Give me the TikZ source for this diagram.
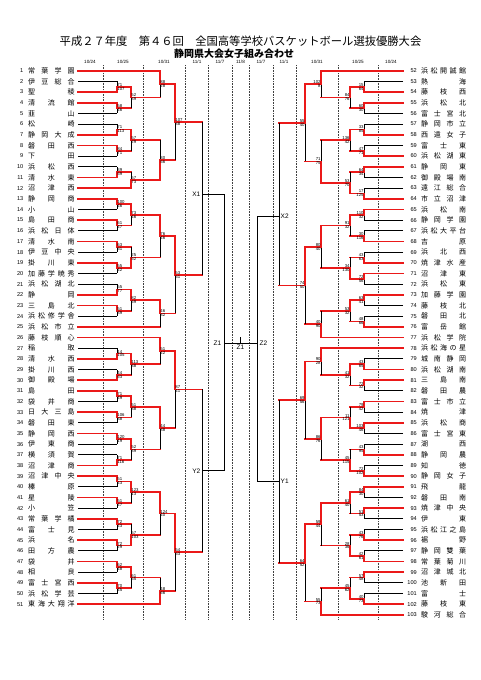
\documentclass[tikz,border=0pt]{standalone}
\usepackage{fontspec}
\newfontfamily\cjk{Noto Sans CJK JP}
\newfontfamily\arial{Liberation Sans}
\definecolor{myred}{RGB}{235,25,25}
\ExplSyntaxOn
\tl_new:N \l_sp_tl
\tl_new:N \l_spt_tl
\NewDocumentCommand\spread{m}{
  \tl_set:Nx \l_sp_tl {#1}
  \tl_set:Nx \l_spt_tl { \tl_tail:N \l_sp_tl }
  \tl_head:N \l_sp_tl
  \tl_map_inline:Nn \l_spt_tl { \hfill ##1 }
}
\ExplSyntaxOff
\tikzset{
  lr/.style={draw=myred, line width=1.7pt, line cap=rect},
  lb/.style={draw=black, line width=0.75pt},
  tr/.style={lr},
  tb/.style={lb},
  dl/.style={draw=black!75, line width=0.45pt, dash pattern=on 0.7pt off 0.9pt},
  sc/.style={font=\arial\fontsize{4.3}{4.3}\selectfont, inner sep=0.25pt},
  hd/.style={font=\arial\fontsize{4.6}{5}\selectfont, inner sep=0},
  nb/.style={font=\arial\fontsize{5.6}{6}\selectfont, inner sep=0},
  nm/.style={font=\cjk\fontsize{7}{7}\selectfont, inner sep=0},
  lab/.style={font=\arial\fontsize{6.5}{7}\selectfont, inner sep=0.5pt},
}
\newcommand\gm[7]{%
  \pgfmathsetmacro\ym{(#3+#4)/2}%
  \ifdim #1pt<240pt \def\sa{west}\else\def\sa{east}\fi
  \ifcase #5\relax
    \draw[lb] (#1,#3) -- (#1,#4); \draw[lb] (#1,\ym) -- (#2,\ym);
  \or
    \draw[lb] (#1,\ym) -- (#1,#4); \draw[lr] (#1,#3) -- (#1,\ym) -- (#2,\ym);
  \or
    \draw[lb] (#1,\ym) -- (#1,#3); \draw[lr] (#1,#4) -- (#1,\ym) -- (#2,\ym);
  \fi
  \node[sc,anchor=south \sa] at (#1,\ym) {#6};
  \node[sc,anchor=north \sa] at (#1,\ym) {#7};
}
\begin{document}
\begin{tikzpicture}[x=1pt,y=-1pt]
\useasboundingbox[fill=white] (0,0) rectangle (481,680);
% title
\node[font=\cjk\fontsize{11.3}{12}\selectfont, inner sep=0] (t1) at (240.5,41) {平成２７年度　第４６回　全国高等学校バスケットボール選抜優勝大会};
\node[font=\cjk\bfseries\fontsize{10}{11}\selectfont, inner sep=0] (t2) at (234,53.5) {静岡県大会女子組み合わせ};
% headers
\foreach \x/\d [count=\i] in {90/10\slash24,123/10\slash25,164/10\slash31,197/11\slash1,220/11\slash7,240.5/11\slash8,261/11\slash7,284/11\slash1,317/10\slash31,358/10\slash25,391/10\slash24}
  \node[hd] (h\i) at (\x,62) {\d};
% dotted lines
\foreach \x in {103,143,185,208,232,249,273,296,338,378}
  \draw[dl] (\x,65) -- (\x,620);
% left names
\foreach \n [count=\i] in {常葉学園,伊豆総合,聖稜,清流館,韮山,松崎,静岡大成,磐田西,下田,浜松西,清水東,沼津西,静岡商,小山,島田商,浜松日体,清水南,伊豆中央,掛川東,加藤学暁秀,浜松湖北,静岡,三島北,浜松修学舎,浜松市立,藤枝順心,稲取,清水西,掛川西,御殿場,島田,袋井商,日大三島,磐田東,静岡西,伊東商,横須賀,沼津商,沼津中央,榛原,星陵,小笠,常葉学橘,富士見,浜名,田方農,袋井,相良,富士宮西,浜松学芸,東海大翔洋}{
  \pgfmathsetmacro\y{70.7+(\i-1)*10.67}
  \node[nb,anchor=east] (ln\i) at (23.5,\y) {\i};
  \node[nm,anchor=west] (lt\i) at (28,\y) {\makebox[46.5pt]{\spread{\n}}};
}
% right names
\foreach \n [count=\j] in {浜松開誠館,熱海,藤枝西,浜松北,富士宮北,静岡市立,西遠女子,富士東,浜松湖東,静岡東,御殿場南,遠江総合,市立沼津,浜松南,静岡学園,浜松大平台,吉原,浜北西,焼津水産,沼津東,浜松東,加藤学園,藤枝北,磐田北,富岳館,浜松学院,浜松海の星,城南静岡,浜松湖南,三島南,磐田農,富士市立,焼津,浜松商,富士宮東,湖西,静岡農,知徳,静岡女子,飛龍,磐田南,焼津中央,伊東,浜松江之島,裾野,静岡雙葉,常葉菊川,沼津城北,池新田,富士,藤枝東,駿河総合}{
  \pgfmathsetmacro\y{70.7+(\j-1)*10.67}
  \pgfmathtruncatemacro\k{\j+51}
  \node[nb,anchor=east] (rn\k) at (417,\y) {\k};
  \node[nm,anchor=west] (rt\k) at (421,\y) {\makebox[45pt]{\spread{\n}}};
}
% left team lines
\foreach \k/\xe/\c in {1/160/r,2/117/b,3/117/r,4/117/r,5/117/b,6/117/b,7/117/r,8/117/r,9/117/b,10/117/b,11/117/r,12/131/r,13/117/r,14/117/b,15/117/r,16/117/b,17/117/r,18/117/b,19/117/r,20/117/b,21/117/b,22/117/r,23/117/r,24/117/b,25/160/r,26/160/r,27/117/b,28/117/r,29/117/b,30/117/r,31/117/r,32/117/b,33/117/r,34/117/b,35/117/r,36/117/b,37/117/b,38/117/r,39/117/r,40/117/b,41/117/r,42/117/b,43/117/r,44/117/b,45/117/r,46/117/b,47/117/r,48/117/b,49/117/r,50/117/b,51/160/r}{
  \pgfmathsetmacro\y{70.7+(\k-1)*10.67}
  \draw[t\c] (78,\y) -- (\xe,\y);
}
% right team lines
\foreach \k/\xe/\c in {52/321/r,53/364/b,54/364/r,55/364/r,56/364/b,57/364/b,58/364/r,59/364/b,60/364/r,61/364/r,62/364/b,63/364/b,64/364/r,65/364/r,66/364/b,67/364/b,68/364/r,69/364/b,70/364/r,71/364/r,72/364/b,73/364/r,74/364/b,75/364/b,76/364/r,77/321/r,78/321/r,79/364/b,80/364/r,81/364/r,82/364/b,83/364/r,84/364/b,85/364/r,86/364/b,87/364/b,88/364/r,89/364/b,90/364/r,91/364/r,92/364/b,93/364/r,94/364/b,95/364/b,96/364/r,97/364/b,98/364/r,99/364/r,100/364/b,101/364/b,102/364/r,103/321/r}{
  \pgfmathsetmacro\y{70.7+(\k-52)*10.67}
  \draw[t\c] (403,\y) -- (\xe,\y);
}
% ---------- left R1 ----------
\gm{117}{131}{81.4}{92.0}{2}{71}{107}
\gm{117}{131}{102.7}{113.4}{1}{58}{46}
\gm{117}{131}{124.0}{134.7}{2}{71}{113}
\gm{117}{131}{145.4}{156.1}{1}{84}{71}
\gm{117}{131}{166.7}{177.4}{2}{39}{59}
\gm{117}{131}{198.7}{209.4}{1}{100}{46}
\gm{117}{131}{220.1}{230.7}{1}{61}{47}
\gm{117}{131}{241.4}{252.1}{1}{63}{51}
\gm{117}{131}{262.8}{273.4}{1}{55}{42}
\gm{117}{131}{284.1}{294.8}{2}{55}{77}
\gm{117}{131}{305.4}{316.1}{1}{51}{39}
\gm{117}{131}{348.1}{358.8}{2}{14}{105}
\gm{117}{131}{369.5}{380.1}{2}{44}{63}
\gm{117}{131}{390.8}{401.5}{1}{71}{49}
\gm{117}{131}{412.1}{422.8}{1}{106}{38}
\gm{117}{131}{433.5}{444.1}{1}{120}{19}
\gm{117}{131}{454.8}{465.5}{2}{71}{116}
\gm{117}{131}{476.1}{486.8}{1}{51}{43}
\gm{117}{131}{497.5}{508.2}{1}{51}{47}
\gm{117}{131}{518.8}{529.5}{1}{72}{43}
\gm{117}{131}{540.2}{550.8}{1}{72}{29}
\gm{117}{131}{561.5}{572.2}{1}{62}{48}
\gm{117}{131}{582.8}{593.5}{1}{70}{45}
% left R2
\gm{131}{160}{86.7}{108.05}{1}{52}{39}
\gm{131}{160}{129.35}{150.75}{1}{57}{29}
\gm{131}{160}{172.05}{188.1}{2}{57}{73}
\gm{131}{160}{204.05}{225.4}{1}{73}{46}
\gm{131}{160}{246.75}{268.1}{2}{25}{52}
\gm{131}{160}{289.45}{310.75}{1}{82}{69}
\gm{131}{160}{353.45}{374.8}{1}{113}{38}
\gm{131}{160}{396.15}{417.45}{1}{51}{38}
\gm{131}{160}{438.8}{460.15}{1}{52}{39}
\gm{131}{160}{481.45}{502.85}{1}{123}{13}
\gm{131}{160}{524.15}{545.5}{2}{57}{103}
\gm{131}{160}{566.85}{588.15}{1}{61}{55}
% left R3
\gm{160}{175}{70.7}{97.375}{1}{88}{28}
\gm{160}{175}{140.05}{180.075}{2}{30}{56}
\gm{160}{175}{214.725}{257.425}{1}{76}{46}
\gm{160}{175}{300.1}{326.8}{1}{46}{32}
\gm{160}{175}{337.4}{364.125}{1}{51}{42}
\gm{160}{175}{406.8}{449.475}{1}{44}{38}
\gm{160}{175}{492.15}{534.825}{1}{124}{40}
\gm{160}{175}{577.5}{604.2}{2}{48}{66}
% left R4
\gm{175}{202}{84.04}{160.06}{1}{107}{38}
\gm{175}{202}{236.075}{313.45}{1}{53}{51}
\gm{175}{202}{350.76}{428.14}{1}{87}{41}
\gm{175}{202}{513.49}{590.85}{1}{54}{53}
% left block finals
\draw[lb] (202,122.05) -- (202,274.76);
\draw[lb] (202,194) -- (224,194);
\node[lab,anchor=east] (X1) at (201,194) {X1};
\draw[lb] (202,389.45) -- (202,552.17);
\draw[lb] (202,470.8) -- (224,470.8);
\node[lab,anchor=east] (Y2) at (201,470.8) {Y2};
\draw[lb] (224,194) -- (224,470.8);
\draw[lb] (224,343) -- (257,343);
\draw[lb] (240.5,337) -- (240.5,343);
\node[lab,anchor=east] (Z1) at (222,343) {Z1};
\node[lab,anchor=north] (Z0) at (240.5,344.5) {Z1};
% ---------- right R1 ----------
\gm{364}{350}{81.4}{92.0}{2}{15}{64}
\gm{364}{350}{102.7}{113.4}{1}{60}{30}
\gm{364}{350}{124.0}{134.7}{2}{33}{85}
\gm{364}{350}{145.4}{156.1}{2}{47}{71}
\gm{364}{350}{166.7}{177.4}{1}{64}{34}
\gm{364}{350}{188.1}{198.7}{2}{17}{125}
\gm{364}{350}{209.4}{220.1}{1}{110}{32}
\gm{364}{350}{230.7}{241.4}{2}{30}{116}
\gm{364}{350}{252.1}{262.8}{2}{43}{63}
\gm{364}{350}{273.4}{284.1}{1}{72}{56}
\gm{364}{350}{294.8}{305.4}{1}{63}{41}
\gm{364}{350}{316.1}{326.8}{2}{48}{66}
\gm{364}{350}{358.8}{369.5}{2}{43}{65}
\gm{364}{350}{380.1}{390.8}{1}{72}{32}
\gm{364}{350}{401.5}{412.1}{1}{79}{42}
\gm{364}{350}{422.8}{433.5}{1}{103}{46}
\gm{364}{350}{444.1}{454.8}{2}{43}{95}
\gm{364}{350}{465.5}{476.1}{2}{72}{102}
\gm{364}{350}{486.8}{497.5}{1}{84}{30}
\gm{364}{350}{508.2}{518.8}{1}{51}{53}
\gm{364}{350}{529.5}{540.2}{2}{43}{76}
\gm{364}{350}{550.8}{561.5}{2}{42}{61}
\gm{364}{350}{572.2}{582.8}{1}{57}{48}
\gm{364}{350}{593.5}{604.2}{2}{40}{73}
% right R2
\gm{350}{321}{86.7}{108.05}{1}{84}{76}
\gm{350}{321}{129.35}{150.75}{1}{136}{42}
\gm{350}{321}{172.05}{193.4}{2}{53}{70}
\gm{350}{321}{214.75}{236.05}{1}{91}{32}
\gm{350}{321}{257.45}{278.75}{2}{34}{130}
\gm{350}{321}{300.1}{321.45}{1}{53}{32}
\gm{350}{321}{364.15}{385.45}{1}{41}{32}
\gm{350}{321}{406.8}{428.15}{2}{11}{121}
\gm{350}{321}{449.45}{470.8}{2}{45}{115}
\gm{350}{321}{492.15}{513.5}{1}{61}{40}
\gm{350}{321}{534.85}{556.15}{2}{28}{36}
\gm{350}{321}{577.5}{598.85}{2}{45}{62}
% right R3
\gm{321}{305}{70.7}{97.375}{1}{102}{8}
\gm{321}{305}{140.05}{182.725}{2}{71}{75}
\gm{321}{305}{225.4}{268.1}{1}{80}{40}
\gm{321}{305}{310.775}{337.4}{2}{40}{90}
\gm{321}{305}{348.1}{374.8}{1}{90}{28}
\gm{321}{305}{417.475}{460.125}{1}{86}{76}
\gm{321}{305}{502.825}{545.5}{1}{59}{44}
\gm{321}{305}{588.175}{614.8}{2}{55}{73}
% right R4
\gm{305}{279}{84.04}{161.39}{1}{55}{40}
\gm{305}{279}{246.75}{324.09}{1}{74}{50}
\gm{305}{279}{361.45}{438.8}{1}{69}{56}
\gm{305}{279}{524.16}{601.49}{1}{64}{52}
% right block finals
\draw[lb] (279,122.7) -- (279,285.42);
\draw[lb] (279,216) -- (257,216);
\node[lab,anchor=west] (X2) at (280,216) {X2};
\draw[lb] (279,400.1) -- (279,562.8);
\draw[lb] (279,481.45) -- (257,481.45);
\node[lab,anchor=west] (Y1) at (280,481.45) {Y1};
\draw[lb] (257,216) -- (257,481.45);
\node[lab,anchor=west] (Z2) at (259,343) {Z2};
\end{tikzpicture}
\end{document}
